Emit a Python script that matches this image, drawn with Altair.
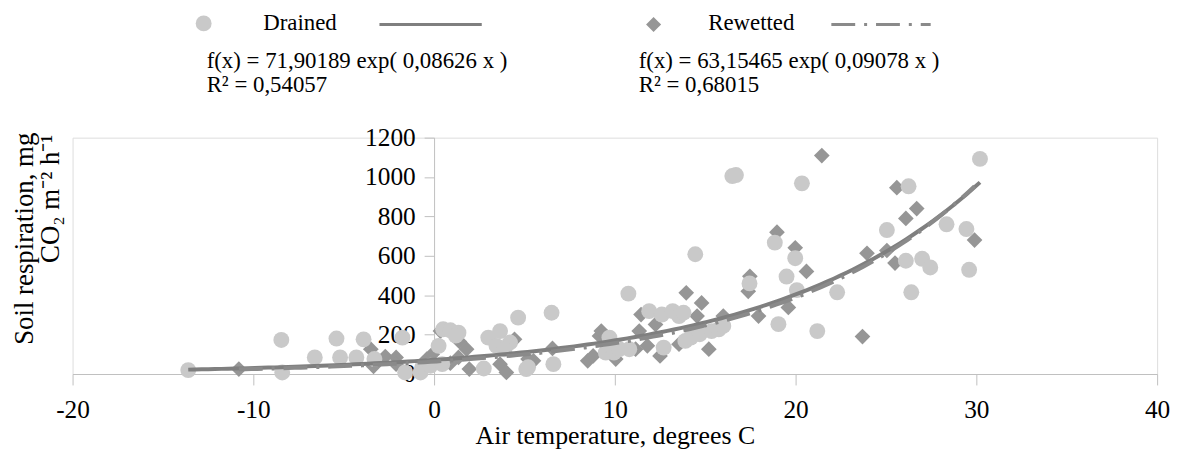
import altair as alt
import numpy as np
import pandas as pd

# ---- data ----
drained_x = [-13.6, -8.45, -8.4, -6.6, -5.4, -5.2, -4.3, -3.9, -3.3, -1.75, -1.6, -0.75, -0.65, -0.2,
             0.25, 0.45, 0.5, 0.9, 1.35, 1.2, 2.75, 3.0, 3.65, 3.45, 4.2, 3.9, 4.65, 5.1, 5.2, 6.5, 6.6,
             9.5, 9.7, 9.95, 10.25, 10.8, 10.75, 11.9, 12.7, 12.6, 13.2, 13.55, 13.8, 13.9, 14.2, 14.45,
             14.7, 15.35, 15.75, 16.0, 16.5, 16.7, 17.45, 18.85, 19.05, 19.5, 19.98, 20.07, 20.35, 21.2,
             22.3, 25.05, 26.1, 26.25, 26.4, 27.0, 27.45, 28.35, 29.45, 29.6, 30.2]
drained_y = [20, 173, 8, 84, 180, 84, 84, 176, 76, 185, 8, 8, 35, 42,
             143, 50, 227, 222, 210, 195, 28, 185, 218, 143, 160, 126, 286, 25, 34, 311, 50,
             109, 185, 109, 126, 126, 408, 319, 134, 302, 319, 294, 311, 168, 185, 608,
             202, 218, 227, 244, 1005, 1010, 460, 667, 253, 495, 588, 426, 968, 218,
             415, 731, 575, 953, 415, 585, 541, 760, 736, 529, 1092]

rewetted_x = [-10.8, -3.5, -3.35, -2.7, -2.1, -2.1, -0.4, -0.1, 0.35, 0.9, 1.4, 1.8, 1.35, 1.95,
              3.65, 4.0, 4.45, 5.2, 5.5, 6.55, 8.5, 8.8, 9.15, 9.25, 10.05, 11.15, 11.35, 11.45,
              11.8, 12.25, 12.5, 13.55, 13.95, 14.55, 14.8, 15.2, 16.0, 17.38, 17.47, 17.95, 18.97,
              19.6, 19.98, 20.6, 21.45, 23.7, 23.95, 25.05, 25.5, 25.6, 26.1, 26.7, 29.9]
rewetted_y = [25, 126, 39, 89, 84, 50, 76, 100, 218, 55, 165, 126, 84, 25,
              50, 8, 176, 76, 67, 130, 67, 92, 193, 218, 76, 126, 218, 302,
              143, 252, 92, 151, 412, 294, 361, 126, 294, 420, 496, 294, 720,
              338, 641, 521, 1109, 190, 613, 627, 563, 946, 790, 840, 680]

# trend line coefficients (as printed on the chart)
fit_a = [71.90189, 63.15465]
fit_b = [0.08626, 0.09078]
series_names = ["Drained", "Rewetted"]
equation_text = ["f(x) = 71,90189 exp( 0,08626 x )", "f(x) = 63,15465 exp( 0,09078 x )"]
r2_text = ["R² = 0,54057", "R² = 0,68015"]
y_title = ["Soil respiration, mg", "CO₂ m⁻² h⁻¹"]
x_title = "Air temperature, degrees C"

x_ticks = [-20, -10, 0, 10, 20, 30, 40]
y_ticks = [0, 200, 400, 600, 800, 1000, 1200]

FONT = "Liberation Serif"
W, H = 1092, 238

drained = pd.DataFrame({"x": drained_x, "y": drained_y})
rewetted = pd.DataFrame({"x": rewetted_x, "y": rewetted_y})

def trend(xs, a, b):
    gx = np.linspace(min(xs), max(xs), 120)
    return pd.DataFrame({"x": gx, "y": a * np.exp(b * gx)})

trend_d = trend(drained_x, fit_a[0], fit_b[0])
trend_r = trend(rewetted_x, fit_a[1], fit_b[1])

X = alt.X("x:Q", scale=alt.Scale(domain=[-20, 40], nice=False, zero=False),
          axis=alt.Axis(values=x_ticks, title=x_title, grid=False, labelFlush=False,
                        labelExpr="'' + datum.value",
                        domainColor="#bfbfbf", tickColor="#bfbfbf", tickSize=11,
                        labelFontSize=25.5, labelPadding=13, labelColor="#000000",
                        titleFontSize=26, titleFontWeight="normal", titleColor="#000000",
                        titleY=70, titleBaseline="alphabetic", labelFont=FONT, titleFont=FONT))
Y = alt.Y("y:Q", scale=alt.Scale(domain=[0, 1200], nice=False),
          axis=alt.Axis(values=y_ticks, title=None, grid=False, offset=-364,
                        labelExpr="'' + datum.value",
                        domainColor="#bfbfbf", tickColor="#bfbfbf", tickSize=10,
                        labelFontSize=25.5, labelPadding=9, labelColor="#000000", labelFont=FONT))

pts_r = alt.Chart(rewetted).mark_point(shape="diamond", filled=True, size=250,
                                       color="#969696", opacity=1).encode(x=X, y=Y)
pts_d = alt.Chart(drained).mark_circle(size=256, color="#c9c9c9", opacity=1).encode(x=X, y=Y)
line_d = alt.Chart(trend_d).mark_line(color="#7f7f7f", strokeWidth=4).encode(x=X, y=Y)
line_r = alt.Chart(trend_r).mark_line(color="#8a8a8a", strokeWidth=4,
                                      strokeDash=[24, 9, 3, 9]).encode(x=X, y=Y)

one = pd.DataFrame({"k": [0]})

def txt(s, px, py, size=23, angle=0, align="left"):
    kw = dict(font=FONT, fontSize=size, align=align, baseline="middle", color="#000000")
    if angle:
        kw["angle"] = angle
    return alt.Chart(one).mark_text(**kw).encode(
        x=alt.value(px), y=alt.value(py), text=alt.value(s))

legend_layers = [
    alt.Chart(one).mark_point(shape="circle", filled=True, size=256, color="#c9c9c9", opacity=1)
        .encode(x=alt.value(132), y=alt.value(-115)),
    txt(series_names[0], 192, -115),
    alt.Chart(one).mark_rule(color="#7f7f7f", strokeWidth=3)
        .encode(x=alt.value(309), x2=alt.value(412), y=alt.value(-114)),
    alt.Chart(one).mark_point(shape="diamond", filled=True, size=230, color="#969696", opacity=1)
        .encode(x=alt.value(585), y=alt.value(-114)),
    txt(series_names[1], 640, -115),
    alt.Chart(one).mark_rule(color="#8a8a8a", strokeWidth=3, strokeDash=[24, 9, 3, 9])
        .encode(x=alt.value(764), x2=alt.value(864), y=alt.value(-114)),
    txt(equation_text[0], 135, -77),
    txt(r2_text[0], 135, -53),
    txt(equation_text[1], 570, -77),
    txt(r2_text[1], 570, -53),
    txt(y_title[0], -48, -5, size=27, angle=270, align="right"),
    txt(y_title[1], -22, -3, size=27, angle=270, align="right"),
]

chart = alt.layer(pts_r, pts_d, line_d, line_r, *legend_layers).properties(
    width=W, height=H,
    autosize=alt.AutoSizeParams(type="none"),
    padding={"left": 65, "top": 129, "right": 17, "bottom": 78},
).configure_view(stroke=None).configure(font=FONT).configure_axis(labelFont=FONT, titleFont=FONT)

chart.save("out.html", embed_options={"renderer": "svg", "actions": False})
